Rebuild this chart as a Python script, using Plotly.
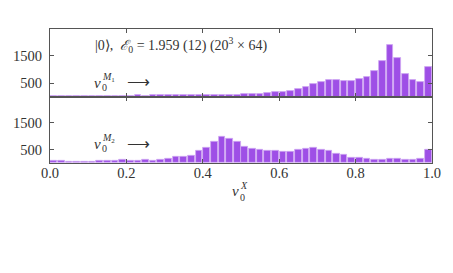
import numpy as np
import plotly.graph_objects as go

# ---- data ----
bin_centers = [round(0.01 + 0.02 * i, 2) for i in range(50)]
counts_M1 = [40, 40, 40, 45, 40, 45, 40, 45, 45, 45, 45, 50, 45, 50, 50, 50, 55, 55, 55, 60,
             60, 65, 65, 65, 65, 90, 100, 100, 140, 175, 175, 225, 285, 370, 480, 550, 600, 600,
             590, 570, 660, 735, 930, 1290, 1900, 1400, 845, 600, 530, 1100]
counts_M2 = [100, 100, 60, 60, 60, 38, 75, 75, 87, 110, 87, 87, 117, 100, 130, 172, 215, 228,
             285, 443, 562, 795, 985, 900, 775, 600, 548, 495, 455, 455, 420, 420, 505, 518, 555,
             511, 456, 345, 297, 178, 203, 148, 118, 118, 148, 142, 118, 130, 172, 488]
x_ticks = [0.0, 0.2, 0.4, 0.6, 0.8, 1.0]
x_tick_labels = ["0.0", "0.2", "0.4", "0.6", "0.8", "1.0"]
y_ticks = [500, 1500]
y_tick_labels = ["500", "1500"]
title_text = "|0⟩,  <i>ℰ</i><sub>0</sub> = 1.959 (12) (20<sup>3</sup> × 64)"

BAR = "#9e4fe6"
EDGE = "#cfa8f2"
AX = "#555555"
FONT = "Liberation Serif"
TXT = "#333333"

OFF = 8  # page body margin
W, H = 453 - 2 * OFF, 273 - 2 * OFF
L, R, T, B = 49.5 - OFF, 432.5 - OFF, 29.0 - OFF, 163.5 - OFF

def px(x):
    return (x - OFF - L) / (R - L)

def py(y):
    return (B - (y - OFF)) / (B - T)

fig = go.Figure()
fig.add_trace(go.Bar(x=bin_centers, y=counts_M1, xaxis="x", yaxis="y",
                     marker=dict(color=BAR, line=dict(color=EDGE, width=0.8)), width=0.0175))
fig.add_trace(go.Bar(x=bin_centers, y=counts_M2, xaxis="x2", yaxis="y2",
                     marker=dict(color=BAR, line=dict(color=EDGE, width=0.8)), width=0.0175))

split = py(97)
common_x = dict(range=[0, 1], tickvals=x_ticks, ticktext=x_tick_labels, ticks="inside",
                ticklen=4, tickcolor=AX, showline=True, linecolor=AX, linewidth=1,
                mirror="ticks", showgrid=False, zeroline=False, ticklabelstandoff=-3,
                tickfont=dict(family=FONT, size=14.5, color=TXT))
common_y = dict(range=[0, 2470], tickvals=y_ticks, ticktext=y_tick_labels, ticks="inside",
                ticklen=4, tickcolor=AX, showline=True, linecolor=AX, linewidth=1,
                mirror="ticks", showgrid=False, zeroline=False, ticklabelstandoff=4,
                tickfont=dict(family=FONT, size=14.5, color=TXT))

fig.update_layout(
    width=W, height=H, margin=dict(l=L, r=W - R, t=T, b=H - B, autoexpand=False),
    paper_bgcolor="white", plot_bgcolor="white", showlegend=False, bargap=0,
    xaxis=dict(common_x, anchor="y", domain=[0, 1], showticklabels=False),
    yaxis=dict(common_y, anchor="x", domain=[split, 1]),
    xaxis2=dict(common_x, anchor="y2", domain=[0, 1]),
    yaxis2=dict(common_y, anchor="x2", domain=[0, split]),
)

def ann(text, x, y, size, xanchor="left"):
    fig.add_annotation(text=text, x=px(x), y=py(y), xref="paper", yref="paper",
                       xanchor=xanchor, yanchor="middle", showarrow=False,
                       font=dict(family=FONT, size=size, color=TXT))

ann(title_text, 93, 45, 14)
# v0^{M1} -->
ann("<i>v</i>", 92, 83, 15)
ann("<i>M</i><sub>1</sub>", 100, 78, 10)
ann("0", 100, 88, 10)
ann("⟶", 125, 82, 16)
# v0^{M2} -->
ann("<i>v</i>", 92, 144, 15)
ann("<i>M</i><sub>2</sub>", 100, 139, 10)
ann("0", 100, 149, 10)
ann("⟶", 125, 144, 16)
# x axis title
ann("<i>v</i>", 230, 192, 15)
ann("<i>X</i>", 238, 186, 10)
ann("0", 238, 198, 10)

fig.write_html("out.html")
